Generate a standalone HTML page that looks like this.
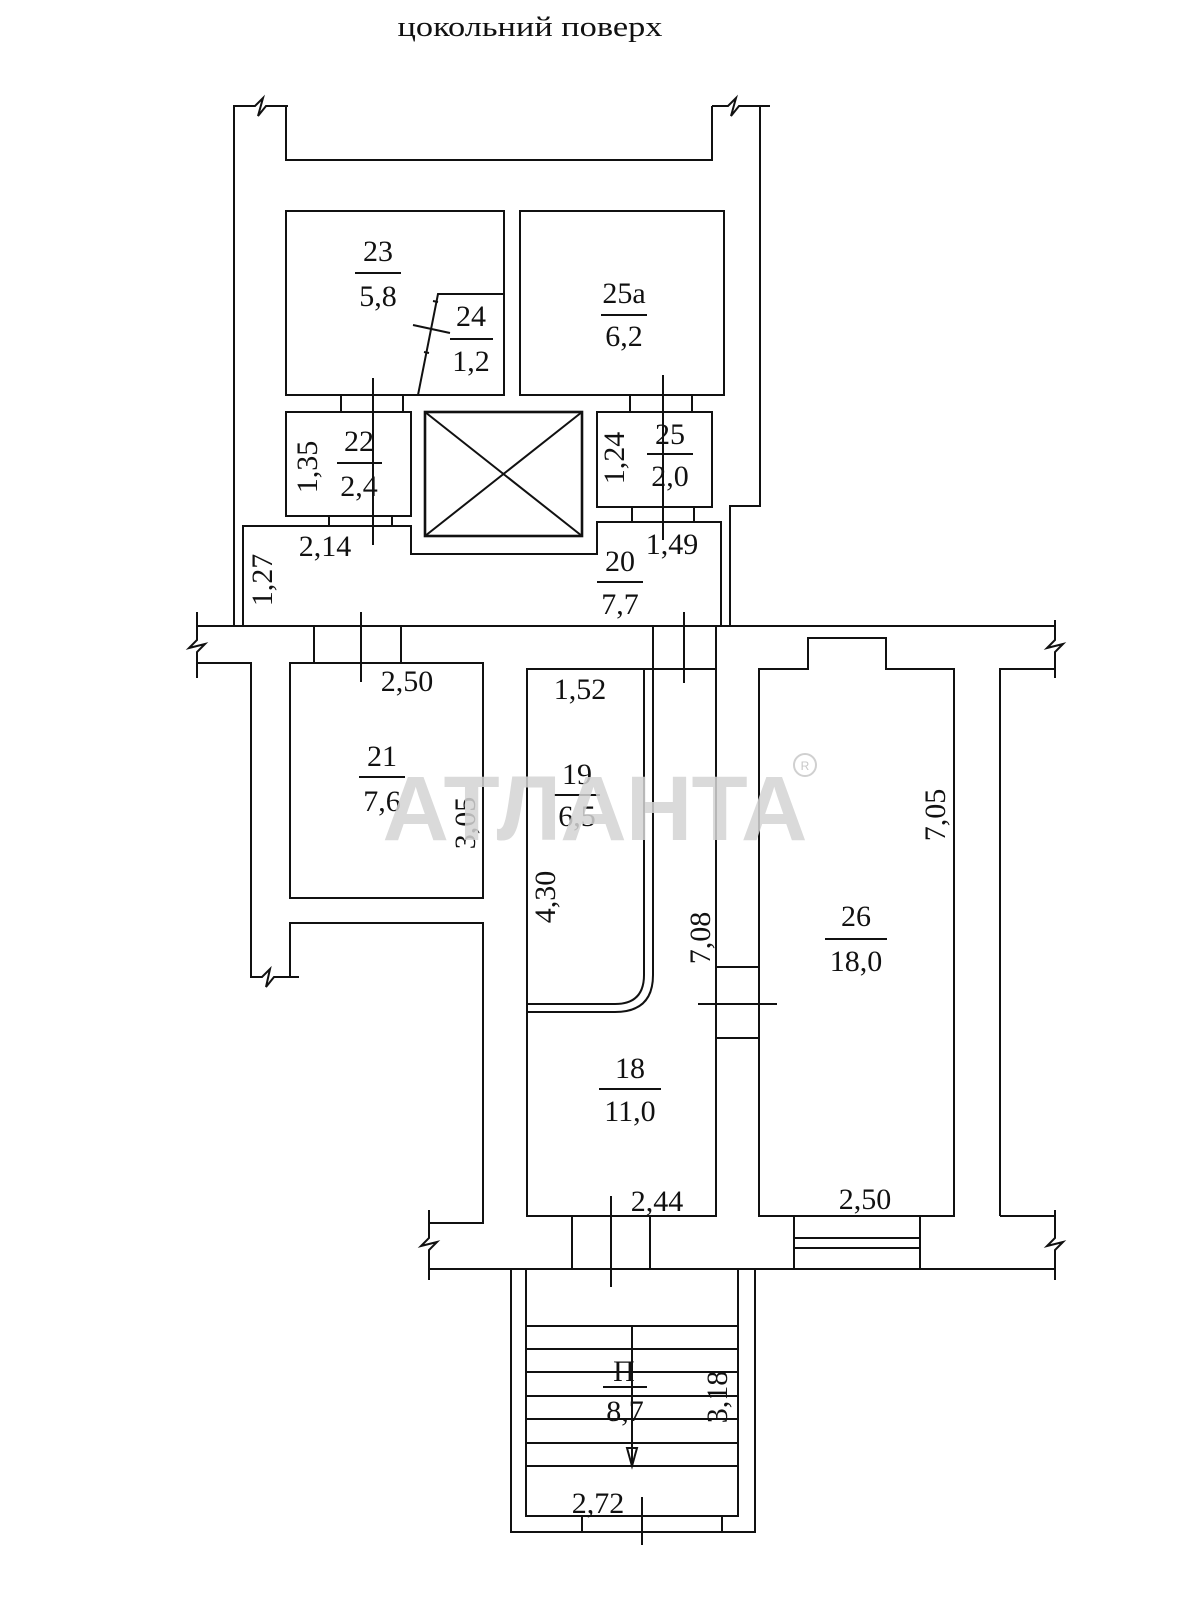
<!DOCTYPE html>
<html><head><meta charset="utf-8"><style>
html,body{margin:0;padding:0;background:#fff;}
svg{display:block;}
text{font-family:"Liberation Serif",serif;fill:#111;}
</style></head><body>
<svg width="1200" height="1600" viewBox="0 0 1200 1600" xmlns="http://www.w3.org/2000/svg">
<rect width="1200" height="1600" fill="#fff"/>
<text x="530" y="36" font-size="29" text-anchor="middle" textLength="265" lengthAdjust="spacingAndGlyphs" style="font-family:'Liberation Serif','Noto Serif CJK SC',serif">цокольний поверх</text>
<g fill="none" stroke="#111" stroke-width="2">
<path d="M234,626 V106 H255 L263,98 L258,116 L266,106 H288"/>
<path d="M286,106 V160 H712 V106"/>
<path d="M712,106 H728 L736,98 L731,116 L739,106 H770"/>
<path d="M760,106 V506 H730 V626"/>
<rect x="286" y="211" width="218" height="184"/>
<path d="M504,294 H438 L418,395"/>
<path d="M413,325 L450,333 M433,301 l5,1 M424,352 l5,1"/>
<rect x="520" y="211" width="204" height="184"/>
<rect x="286" y="412" width="125" height="104"/>
<rect x="597" y="412" width="115" height="95"/>
<path d="M341,395 V412 M403,395 V412 M630,395 V412 M692,395 V412"/>
<path d="M329,516 V526 M392,516 V526 M632,507 V522 M694,507 V522"/>
<rect x="425" y="412" width="157" height="124" stroke-width="2.6"/>
<path d="M425,412 L582,536 M582,412 L425,536"/>
<path d="M243,626 V526 H411 V554 H597 V522 H721 V626"/>
<path d="M373,378 V545 M663,375 V540"/>
<path d="M197,626 H1055"/>
<path d="M197,612 V640 L189,648 L205,644 L197,652 V678"/>
<path d="M1055,620 V640 L1047,648 L1063,644 L1055,652 V678"/>
<path d="M197,663 H251 V977 H262 L270,969 L266,987 L274,977 H299"/>
<path d="M290,977 V923 H483 V1223 H429"/>
<path d="M429,1210 V1238 L421,1246 L437,1242 L429,1250 V1280"/>
<rect x="290" y="663" width="193" height="235"/>
<path d="M314,626 V663 M401,626 V663 M361,612 V682"/>
<path d="M527,1004 V669 H644"/>
<path d="M644,669 V975 Q644,1004 615,1004 H527"/>
<path d="M653,626 V975 Q653,1012 615,1012 H527"/>
<path d="M644,669 H716 M684,612 V683"/>
<path d="M527,1004 V1216 H716 V626"/>
<path d="M759,1216 V669 H808 V638 H886 V669 H954 V1216 Z"/>
<path d="M1000,1216 V669 H1055 M1000,1216 H1055"/>
<path d="M716,967 H759 M716,1038 H759 M698,1004 H777"/>
<path d="M429,1269 H1055"/>
<path d="M1055,1210 V1238 L1047,1246 L1063,1242 L1055,1250 V1280"/>
<path d="M572,1216 V1269 M650,1216 V1269 M611,1196 V1287"/>
<path d="M794,1216 V1269 M920,1216 V1269 M794,1238 H920 M794,1248 H920"/>
<path d="M511,1269 V1532 H755 V1269"/>
<path d="M526,1269 V1516 H738 V1269"/>
<path d="M526,1326 H738 M526,1349 H738 M526,1372 H738 M526,1396 H738 M526,1419 H738 M526,1443 H738 M526,1466 H738"/>
<path d="M632,1326 V1466"/>
<path d="M627,1448 L632,1466 L637,1448 Z"/>
<path d="M582,1516 V1532 M722,1516 V1532 M642,1497 V1545"/>
</g>
<g font-size="30" text-anchor="middle">
<text x="378" y="261">23</text><line x1="355" y1="273" x2="401" y2="273" stroke="#111" stroke-width="2"/><text x="378" y="306">5,8</text>
<text x="471" y="326">24</text><line x1="450" y1="339" x2="493" y2="339" stroke="#111" stroke-width="2"/><text x="471" y="371">1,2</text>
<text x="624" y="303">25а</text><line x1="601" y1="315" x2="647" y2="315" stroke="#111" stroke-width="2"/><text x="624" y="346">6,2</text>
<text x="359" y="451">22</text><line x1="337" y1="463" x2="382" y2="463" stroke="#111" stroke-width="2"/><text x="359" y="496">2,4</text>
<text x="670" y="444">25</text><line x1="647" y1="454" x2="693" y2="454" stroke="#111" stroke-width="2"/><text x="670" y="486">2,0</text>
<text x="620" y="571">20</text><line x1="597" y1="582" x2="643" y2="582" stroke="#111" stroke-width="2"/><text x="620" y="614">7,7</text>
<text x="325" y="556">2,14</text>
<text x="672" y="554">1,49</text>
<text transform="translate(317,467) rotate(-90)">1,35</text>
<text transform="translate(624,458) rotate(-90)">1,24</text>
<text transform="translate(272,580) rotate(-90)">1,27</text>
<text x="407" y="691">2,50</text>
<text x="382" y="766">21</text><line x1="359" y1="777" x2="405" y2="777" stroke="#111" stroke-width="2"/><text x="382" y="811">7,6</text>
<text x="577" y="784">19</text><line x1="554" y1="795" x2="600" y2="795" stroke="#111" stroke-width="2"/><text x="577" y="826">6,5</text>
<text x="580" y="699">1,52</text>
<text transform="translate(475,823) rotate(-90)">3,05</text>
<text transform="translate(555,897) rotate(-90)">4,30</text>
<text transform="translate(945,815) rotate(-90)">7,05</text>
<text transform="translate(710,938) rotate(-90)">7,08</text>
<text x="856" y="926">26</text><line x1="825" y1="939" x2="887" y2="939" stroke="#111" stroke-width="2"/><text x="856" y="971">18,0</text>
<text x="630" y="1078">18</text><line x1="599" y1="1089" x2="661" y2="1089" stroke="#111" stroke-width="2"/><text x="630" y="1121">11,0</text>
<text x="657" y="1211">2,44</text>
<text x="865" y="1209">2,50</text>
<text x="624" y="1381">П</text><line x1="603" y1="1387" x2="647" y2="1387" stroke="#111" stroke-width="2"/><text x="625" y="1421">8,7</text>
<text transform="translate(727,1397) rotate(-90)">3,18</text>
<text x="598" y="1513">2,72</text>
</g>
<text x="595" y="840" font-size="92" font-weight="bold" text-anchor="middle" textLength="425" style="font-family:'Liberation Sans',sans-serif;fill:#d4d4d4;opacity:0.85">АТЛАНТА</text>
<circle cx="805" cy="765" r="11" fill="none" stroke="#d0d0d0" stroke-width="2"/>
<text x="805" y="770" font-size="12" text-anchor="middle" style="font-family:'Liberation Sans',sans-serif;fill:#c8c8c8">R</text>
</svg>
</body></html>
